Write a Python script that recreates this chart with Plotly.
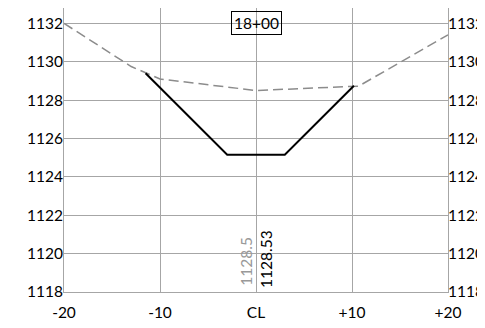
import plotly.graph_objects as go

# Existing ground (dashed)
ground_x = [-20, -13, -10, 0, 10.7, 20]
ground_y = [1132.0, 1129.75, 1129.1, 1128.5, 1128.73, 1131.4]

# Proposed section (solid)
design_x = [-11.5, -3, 3, 10.2]
design_y = [1129.4, 1125.15, 1125.15, 1128.75]

x_ticks = [-20, -10, 0, 10, 20]
x_labels = ["-20", "-10", "CL", "+10", "+20"]
y_ticks = [1118, 1120, 1122, 1124, 1126, 1128, 1130, 1132]

station = "18+00"
ground_cl = "1128.5"
design_cl = "1128.53"

FONT = "Lato"
GRID = "#a6a6a6"
FS = 15.5
Y_RANGE = [1118, 1132.8]

fig = go.Figure()
fig.add_trace(go.Scatter(x=ground_x, y=ground_y, mode="lines",
                         line=dict(color="#8c8c8c", width=1.5, dash="10px,5px"),
                         hoverinfo="skip", showlegend=False))
fig.add_trace(go.Scatter(x=design_x, y=design_y, mode="lines",
                         line=dict(color="black", width=2),
                         hoverinfo="skip", showlegend=False))
# invisible trace to activate right axis
fig.add_trace(go.Scatter(x=ground_x, y=ground_y, mode="lines", yaxis="y2",
                         line=dict(color="rgba(0,0,0,0)", width=0),
                         hoverinfo="skip", showlegend=False))

# page body has an 8px margin, so the figure is sized/offset to compensate
fig.update_layout(
    width=477, height=320,
    margin=dict(l=55.5, r=37.3, t=0, b=36.3, pad=0),
    paper_bgcolor="white", plot_bgcolor="white",
    font=dict(family=FONT, size=FS, color="black"),
    xaxis=dict(range=[-20, 20], tickvals=x_ticks, ticktext=x_labels,
               showgrid=True, gridcolor=GRID, gridwidth=1, automargin=False,
               zeroline=False, showline=True, linecolor=GRID, linewidth=1,
               ticks="outside", ticklen=6, tickcolor="rgba(0,0,0,0)",
               tickfont=dict(family=FONT, size=FS)),
    yaxis=dict(range=Y_RANGE, tickvals=y_ticks, automargin=False,
               showgrid=True, gridcolor=GRID, gridwidth=1,
               zeroline=False, showline=True, linecolor=GRID, linewidth=1,
               ticks="", ticklabelstandoff=-3, tickfont=dict(family=FONT, size=FS)),
    yaxis2=dict(range=Y_RANGE, tickvals=y_ticks, overlaying="y", side="right",
                automargin=False, ticklabelstandoff=-4,
                showgrid=False, zeroline=False, showline=True, linecolor=GRID,
                linewidth=1, ticks="", tickfont=dict(family=FONT, size=FS)),
)

fig.add_annotation(x=0, y=1132, text=station, showarrow=False,
                   xanchor="center", yanchor="middle",
                   font=dict(family=FONT, size=FS, color="black"),
                   bordercolor="black", borderwidth=1, borderpad=2,
                   bgcolor="rgba(0,0,0,0)")
fig.add_annotation(x=-1.0, y=1119.6, text=ground_cl, showarrow=False,
                   textangle=-90, xanchor="center", yanchor="middle",
                   font=dict(family=FONT, size=FS, color="#999999"))
fig.add_annotation(x=1.1, y=1119.7, text=design_cl, showarrow=False,
                   textangle=-90, xanchor="center", yanchor="middle",
                   font=dict(family=FONT, size=FS, color="black"))

fig.write_html("out.html")
